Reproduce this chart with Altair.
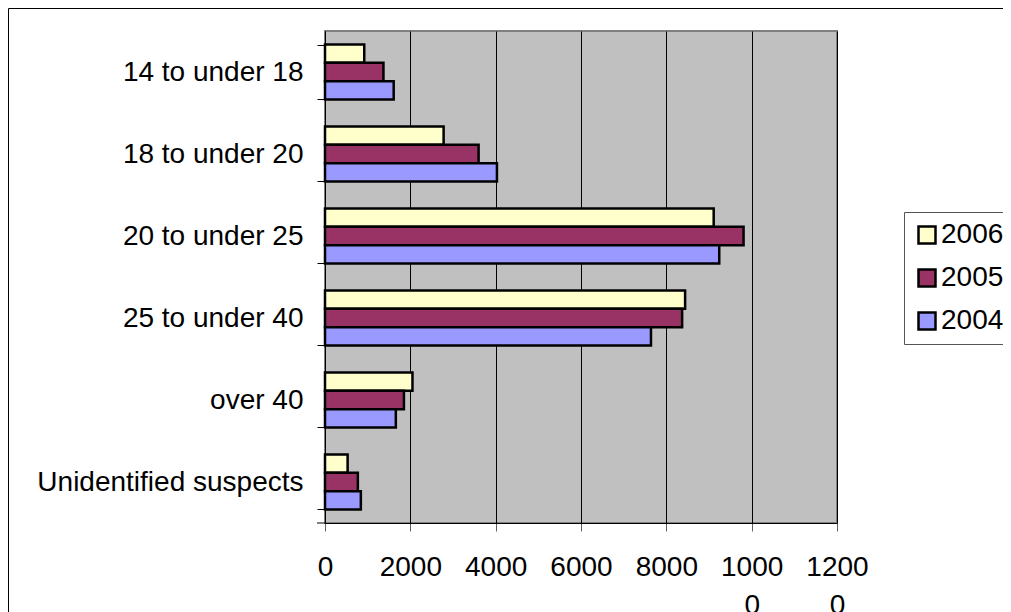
import altair as alt
import pandas as pd

categories = ["14 to under 18", "18 to under 20", "20 to under 25",
              "25 to under 40", "over 40", "Unidentified suspects"]
years = ["2006", "2005", "2004"]
values_2006 = [920, 2780, 9110, 8440, 2050, 530]
values_2005 = [1370, 3600, 9810, 8370, 1850, 770]
values_2004 = [1610, 4030, 9240, 7640, 1660, 840]
colors = ["#FFFFCC", "#993366", "#9999FF"]
x_ticks = [0, 2000, 4000, 6000, 8000, 10000, 12000]

series = {"2006": values_2006, "2005": values_2005, "2004": values_2004}
rows = []
for yr in years:
    for cat, v in zip(categories, series[yr]):
        rows.append({"category": cat, "year": yr, "value": v})
df = pd.DataFrame(rows)

FONT = "Liberation Sans"

bars = alt.Chart(df).mark_bar(stroke="black", strokeWidth=2.5).encode(
    x=alt.X("value:Q",
            scale=alt.Scale(domain=[0, 12000], nice=False, zero=True),
            axis=alt.Axis(values=x_ticks, format="d", title=None,
                          grid=True, gridColor="black", gridWidth=1,
                          domainColor="black", domainWidth=1,
                          tickColor="#606060", tickSize=8,
                          labelFontSize=28, labelPadding=22,
                          labelLineHeight=38, labelColor="black",
                          labelOverlap=False, labelFlush=False,
                          labelExpr="length(datum.label) > 4 ? [substring(datum.label, 0, 4), substring(datum.label, 4)] : datum.label")),
    y=alt.Y("category:N", sort=categories,
            scale=alt.Scale(paddingInner=0.33, paddingOuter=0.165),
            axis=alt.Axis(title=None, grid=False, tickBand="extent",
                          domainColor="black", domainWidth=1,
                          tickColor="black", tickSize=8,
                          labelFontSize=28, labelPadding=14, labelLimit=400,
                          labelColor="black")),
    yOffset=alt.YOffset("year:N", sort=years,
                        scale=alt.Scale(paddingInner=0, paddingOuter=0)),
    color=alt.Color("year:N", sort=years,
                    scale=alt.Scale(domain=years, range=colors),
                    legend=alt.Legend(title=None, orient="none",
                                      legendX=579, legendY=181,
                                      symbolType="square", symbolSize=289,
                                      symbolStrokeColor="black",
                                      symbolStrokeWidth=2.5,
                                      labelFontSize=28, labelOffset=0,
                                      labelColor="black",
                                      rowPadding=15, padding=9,
                                      strokeColor="#555555", fillColor="white")),
)

border = alt.Chart(alt.Data(values=[{}])).mark_rect(
    fill="transparent", stroke="black", strokeWidth=1
).encode(
    x=alt.value(-316.5), x2=alt.value(1000),
    y=alt.value(-22.5), y2=alt.value(1000),
)

bottom_tick = alt.Chart(alt.Data(values=[{}])).mark_rule(
    color="black", strokeWidth=1
).encode(
    x=alt.value(-8), x2=alt.value(0), y=alt.value(492),
)

chart = alt.layer(border, bars, bottom_tick).properties(
    width=512, height=492,
    autosize=alt.AutoSizeParams(type="none"),
    padding={"left": 317, "top": 23, "right": 166, "bottom": 89},
).configure(
    font=FONT, background="white",
).configure_view(
    fill="#C0C0C0", stroke="#808080", strokeWidth=2,
)

chart.save("out.html", embed_options={"renderer": "svg", "actions": False})
